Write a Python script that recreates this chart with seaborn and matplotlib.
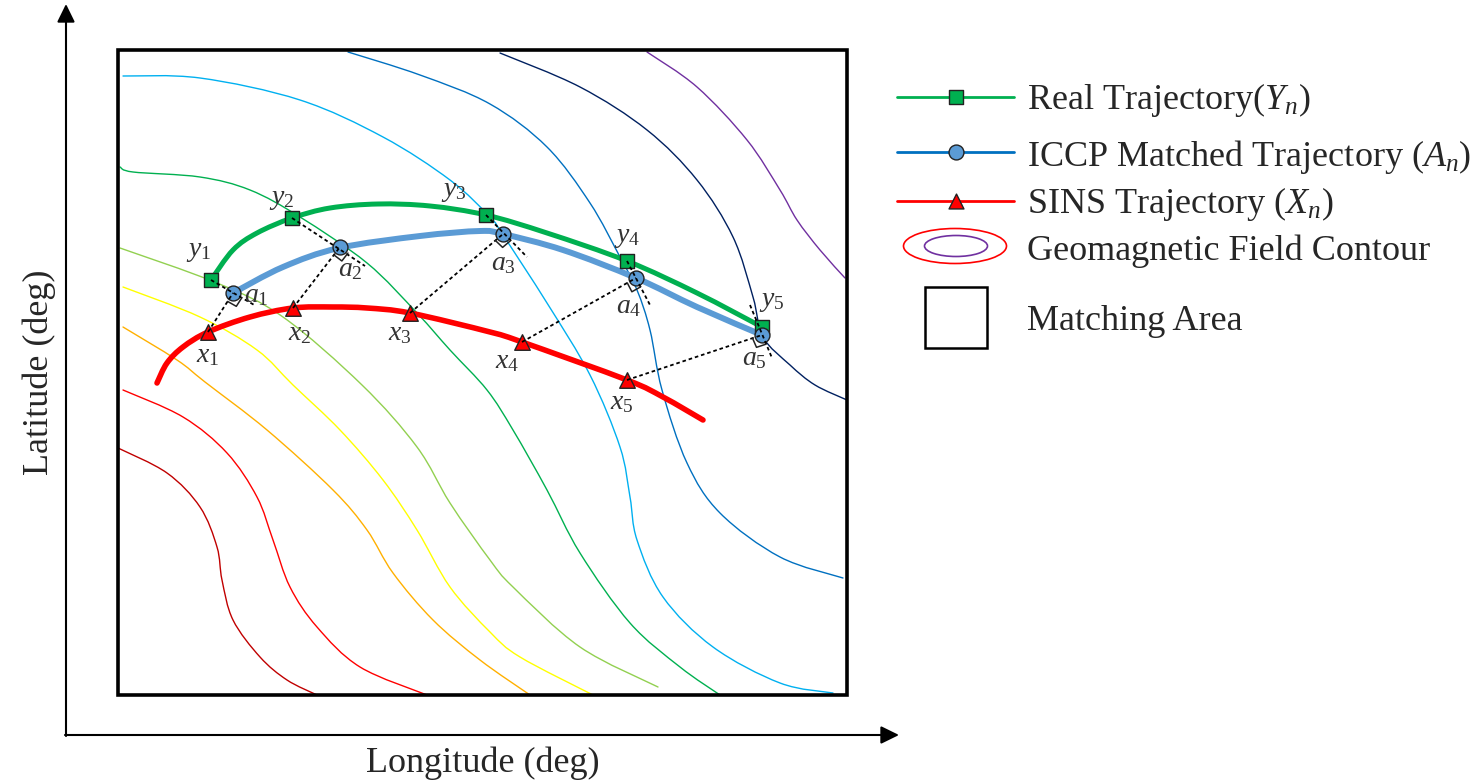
# ICCP 地磁匹配示意图
import numpy as np
import seaborn as sns
import matplotlib
matplotlib.use('Agg')
from matplotlib import pyplot as plt
from matplotlib.path import Path
from matplotlib.patches import PathPatch, Ellipse, Rectangle

# 坐标按图中像素读取 (经度向右, 纬度向下)
# 真实轨迹
real_lon = [211, 233, 257, 292, 330, 378, 430, 486, 547, 627, 697, 762]
real_lat = [280, 250, 233, 218, 208, 204, 206, 215, 233, 261, 293, 327]
real_pt_lon = [211, 292, 486, 627, 762]
real_pt_lat = [280, 218, 215, 261, 327]
# ICCP 匹配轨迹
iccp_lon = [233, 283, 339, 420, 480, 503, 563, 636, 697, 762]
iccp_lat = [293, 267, 248, 236, 231, 234, 250, 278, 307, 335]
iccp_pt_lon = [233, 340, 503, 636, 762]
iccp_pt_lat = [293, 247, 234, 278, 335]
# SINS 轨迹
sins_lon = [157, 167, 183, 208, 250, 293, 333, 367, 410, 490, 522, 627, 663, 703]
sins_lat = [383, 363, 347, 332, 317, 308, 307, 308, 313, 332, 342, 380, 397, 420]
sins_pt_lon = [208, 293, 410, 522, 627]
sins_pt_lat = [332, 308, 313, 342, 380]
# y_i -> a_i 虚线 (延长到垂足外)
foot_start_lon = [211, 292, 486, 627, 750]
foot_start_lat = [280, 218, 215, 261, 305]
foot_end_lon = [256, 365, 527, 650, 772]
foot_end_lat = [306, 266, 257, 305, 358]

# 点标注
y_lab_lon = [199, 282, 454, 627, 772]
y_lab_lat = [251, 200, 192, 237, 302]
a_lab_lon = [256, 350, 503, 629, 754]
a_lab_lat = [296, 270, 264, 307, 359]
x_lab_lon = [208, 300, 400, 507, 622]
x_lab_lat = [356, 334, 334, 362, 403]

# 地磁等值线
contours = [
    ('#C00000', [118, 167, 200, 217, 222, 233, 260, 287, 317],
                [448, 473, 507, 547, 580, 620, 657, 680, 695]),
    ('#FF0000', [123, 183, 227, 257, 273, 290, 317, 360, 427],
                [390, 417, 453, 497, 540, 587, 627, 667, 695]),
    ('#FFB000', [123, 177, 205, 267, 333, 367, 393, 433, 480, 530],
                [327, 360, 382, 430, 490, 530, 573, 620, 660, 695]),
    ('#FFFF00', [123, 200, 257, 293, 340, 383, 417, 450, 490, 520, 593],
                [287, 317, 350, 385, 430, 480, 530, 587, 632, 657, 695]),
    ('#92D050', [120, 217, 283, 362, 417, 450, 490, 513, 580, 658],
                [248, 283, 317, 385, 447, 503, 560, 587, 647, 687]),
    ('#00B050', [120, 133, 200, 250, 300, 367, 417, 450, 487, 513, 547, 580, 630, 680, 720],
                [167, 172, 177, 190, 217, 263, 313, 350, 390, 430, 490, 553, 623, 667, 695]),
    ('#00B0F0', [123, 200, 300, 383, 450, 490, 503, 547, 590, 620, 630, 637, 663, 713, 780, 833],
                [76, 78, 100, 137, 180, 217, 235, 303, 375, 447, 497, 540, 597, 647, 683, 693]),
    ('#0070C0', [348, 420, 490, 547, 590, 620, 637, 650, 662, 687, 720, 780, 843],
                [52, 75, 104, 147, 203, 257, 290, 330, 390, 463, 513, 557, 578]),
    ('#002060', [500, 580, 647, 697, 733, 753, 763, 790, 815, 847],
                [53, 87, 130, 180, 237, 297, 337, 365, 385, 400]),
    ('#7030A0', [647, 697, 747, 780, 797, 820, 845],
                [52, 87, 140, 190, 220, 250, 278]),
]

legend_labels = ['Real Trajectory($Y_n$)', 'ICCP Matched Trajectory ($A_n$)',
                 'SINS Trajectory ($X_n$)', 'Geomagnetic Field Contour', 'Matching Area']
legend_base = [109, 166, 213, 260, 330]
legend_line_lat = [97, 152, 201]

sns.set_theme(style='white')
plt.rcParams['font.family'] = ['Liberation Serif', 'DejaVu Serif']
plt.rcParams['mathtext.fontset'] = 'custom'
plt.rcParams['mathtext.rm'] = 'Liberation Serif'
plt.rcParams['mathtext.it'] = 'Liberation Serif:italic'
plt.rcParams['mathtext.bf'] = 'Liberation Serif:bold'


def smooth(ax, xs, ys, color, lw, z):
    # Catmull-Rom 曲线穿过所有读取的点
    pts = np.column_stack([xs, ys]).astype(float)
    n = len(pts)
    verts = [pts[0]]
    codes = [Path.MOVETO]
    for i in range(n - 1):
        p0 = pts[max(i - 1, 0)]
        p1 = pts[i]
        p2 = pts[i + 1]
        p3 = pts[min(i + 2, n - 1)]
        verts += [p1 + (p2 - p0) / 6, p2 - (p3 - p1) / 6, p2]
        codes += [Path.CURVE4] * 3
    ax.add_patch(PathPatch(Path(verts, codes), fill=False, edgecolor=color,
                           lw=lw, zorder=z, capstyle='round'))


fig = plt.figure(figsize=(14.77, 7.8), dpi=100)
ax = fig.add_axes([0, 0, 1, 1])

for col, cx, cy in contours:
    smooth(ax, cx, cy, col, 1.0, 1)

smooth(ax, real_lon, real_lat, '#00B050', 3.6, 3)
smooth(ax, iccp_lon, iccp_lat, '#5B9BD5', 4.3, 3)
smooth(ax, sins_lon, sins_lat, '#FF0000', 4.0, 3)

sns.scatterplot(x=real_pt_lon, y=real_pt_lat, marker='s', s=110, color='#00B050',
                edgecolor='#222222', linewidth=1.0, zorder=5, ax=ax)
sns.scatterplot(x=iccp_pt_lon, y=iccp_pt_lat, marker='o', s=115, color='#5B9BD5',
                edgecolor='#222222', linewidth=1.0, zorder=5, ax=ax)
sns.scatterplot(x=sins_pt_lon, y=sins_pt_lat, marker='^', s=125, color='#FF0000',
                edgecolor='#222222', linewidth=1.0, zorder=5, ax=ax)

dot = (0, (2, 1.6))
for i in range(5):
    ax.plot([foot_start_lon[i], foot_end_lon[i]], [foot_start_lat[i], foot_end_lat[i]],
            color='black', ls=dot, lw=1.3, zorder=6)
    ax.plot([sins_pt_lon[i], iccp_pt_lon[i]], [sins_pt_lat[i], iccp_pt_lat[i]],
            color='black', ls=dot, lw=1.3, zorder=6)
    # 垂足直角符号
    a = np.array([iccp_pt_lon[i], iccp_pt_lat[i]], float)
    u = np.array([sins_pt_lon[i], sins_pt_lat[i]], float) - a
    v = np.array([foot_end_lon[i], foot_end_lat[i]], float) - a
    u = u / np.linalg.norm(u) * 10
    v = v / np.linalg.norm(v) * 10
    c = np.array([a + u, a + u + v, a + v])
    ax.plot(c[:, 0], c[:, 1], color='#222222', lw=1.1, zorder=6)

lab_kw = dict(fontsize=20, color='#333333', ha='center', va='center', zorder=7)
for i in range(5):
    ax.text(y_lab_lon[i], y_lab_lat[i], '$y_%d$' % (i + 1), **lab_kw)
    ax.text(a_lab_lon[i], a_lab_lat[i], '$a_%d$' % (i + 1), **lab_kw)
    ax.text(x_lab_lon[i], x_lab_lat[i], '$x_%d$' % (i + 1), **lab_kw)

# 匹配区域
ax.add_patch(Rectangle((118, 50), 729, 645, fill=False, ec='black', lw=2.6, zorder=8))

# 坐标轴箭头
arr = dict(arrowstyle='-|>,head_length=0.55,head_width=0.27', lw=1.5, color='black',
           shrinkA=0, shrinkB=0, mutation_scale=20)
ax.annotate('', xy=(66, 4), xytext=(66, 736), arrowprops=arr)
ax.annotate('', xy=(899, 735), xytext=(65, 735), arrowprops=arr)
ax.text(483, 772, 'Longitude (deg)', fontsize=26, ha='center', va='baseline')
ax.text(48, 372, 'Latitude (deg)', fontsize=26, ha='center', va='baseline', rotation=90,
        rotation_mode='anchor')

# 图例
leg_cols = ['#00B050', '#0070C0', '#FF0000']
leg_marks = ['s', 'o', '^']
leg_fc = ['#00B050', '#5B9BD5', '#FF0000']
for i in range(3):
    ax.plot([897, 1014], [legend_line_lat[i]] * 2, color=leg_cols[i], lw=2.0, zorder=4)
    ax.scatter([956], [legend_line_lat[i]], marker=leg_marks[i], s=115, color=leg_fc[i],
               edgecolor='#222222', linewidth=1.0, zorder=5)
ax.add_patch(Ellipse((955, 246), 103, 35, fill=False, ec='#FF0000', lw=1.2))
ax.add_patch(Ellipse((956, 246), 63, 21, fill=False, ec='#7030A0', lw=1.2))
ax.add_patch(Rectangle((925, 287), 62, 61, fill=False, ec='black', lw=1.8))
for lab, yb in zip(legend_labels, legend_base):
    ax.text(1027, yb, lab, fontsize=26, ha='left', va='baseline')

ax.set_xlim(0, 1477)
ax.set_ylim(780, 0)
ax.axis('off')
fig.savefig('out.png', dpi=100)
